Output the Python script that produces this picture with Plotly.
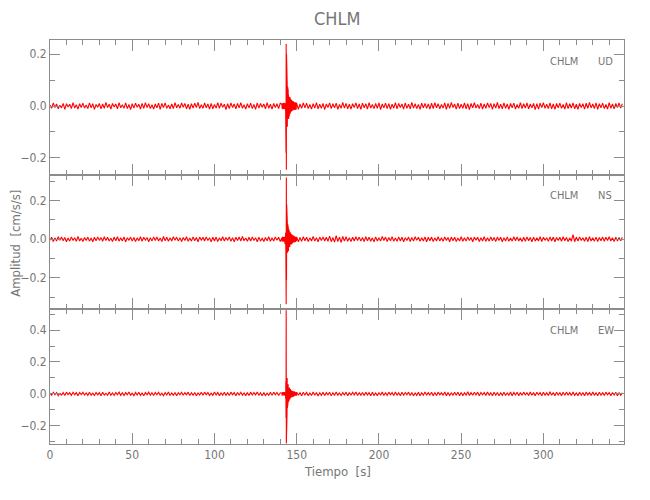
import numpy as np
import plotly.graph_objects as go
from plotly.subplots import make_subplots

# ---- sampling times [s]: 1 s before/after the event, 0.1 s around it ----
t_pre = np.arange(0, 141)               # 0 .. 140
t_evt = np.arange(1410, 1500) / 10.0    # 141.0 .. 149.9
t_post = np.arange(150, 349)            # 150 .. 348
t = np.concatenate([t_pre, t_evt, t_post])

# ---- amplitudes in mGal (0.001 cm/s/s) ----
ud_pre = [4,-9,12,-6,8,-11,3,-7,10,-13,9,-4,7,-10,13,-8,5,-12,9,-6,
          11,-8,4,-10,12,-7,9,-13,6,-5,10,-11,8,-9,14,-6,7,-12,10,-4,
          8,-11,13,-7,5,-9,12,-10,6,-14,9,-8,11,-5,7,-12,10,-9,13,-6,
          9,-10,5,-12,8,-7,11,-13,10,-6,12,-9,4,-11,8,-10,13,-7,6,-9,
          12,-5,10,-11,7,-13,9,-8,11,-6,14,-10,5,-9,12,-7,8,-12,10,-11,
          6,-8,13,-9,11,-5,7,-14,9,-10,12,-6,8,-11,10,-7,13,-9,5,-12,
          9,-7,11,-10,6,-13,12,-8,10,-5,8,-11,13,-9,7,-12,10,-6,9,-10,
          11]
ud_evt = [6,-9,11,-7,10,-12,8,-5,12,-10,7,-11,9,-6,13,-9,8,-12,10,-7,11,-8,9,
          -28,120,-180,240,-246,200,-160,130,-110,90,
          -80,75,-70,60,-55,62,-48,45,-50,40,
          -38,35,-40,30,-33,36,-28,25,-30,27,
          -24,22,-25,20,-22,24,-18,20,-21,17,
          -19,18,-16,15,-18,16,-14,
          17,-15,13,-16,14,-12,15,-13,11,-14,12,-15,13,-11,14,-12,10,-13,12,-11]
ud_post = [10,-13,8,-9,12,-7,11,-10,6,-12,9,-8,13,-11,7,-9,10,-14,8,-6,
           12,-10,9,-7,11,-13,6,-9,14,-8,10,-11,7,-12,9,-6,12,-10,8,-13,
           11,-7,9,-12,13,-8,6,-10,10,-9,12,-14,8,-7,11,-10,9,-13,7,-8,
           13,-11,10,-6,8,-12,12,-9,7,-11,14,-8,9,-10,6,-13,11,-7,10,-9,
           8,-12,11,-10,13,-7,9,-11,6,-8,12,-13,10,-9,14,-6,8,-12,11,-10,
           7,-9,12,-11,9,-14,10,-7,13,-8,6,-10,11,-12,8,-9,12,-6,10,-13,
           9,-8,14,-10,7,-11,12,-9,8,-13,10,-7,11,-12,6,-9,13,-10,9,-8,
           12,-11,8,-7,10,-14,9,-12,11,-6,13,-9,7,-10,12,-11,8,-13,10,-7,
           11,-9,6,-12,13,-10,9,-8,12,-11,7,-13,10,-6,9,-12,11,-9,14,-7,
           8,-10,12,-13,9,-7,11,-10,6,-12,13,-9,8,-11,10,-6,12,-8,9]

ns_pre = [-6,10,-12,7,-9,13,-5,11,-8,9,-13,6,-10,12,-7,8,-11,14,-9,5,
          -12,9,-7,11,-10,6,-13,10,-8,12,-6,9,-11,13,-7,10,-9,5,-12,11,
          -8,13,-10,7,-9,12,-14,8,-6,11,-10,9,-12,7,-8,13,-11,10,-5,9,
          -13,8,-10,12,-7,11,-9,6,-12,14,-8,10,-11,7,-9,13,-6,11,-10,8,
          -12,9,-7,13,-11,6,-10,12,-8,9,-13,11,-6,10,-9,12,-7,8,-14,10,
          -9,11,-12,7,-8,13,-10,9,-6,12,-11,8,-13,10,-7,11,-9,14,-8,6,
          -11,10,-9,12,-7,8,-13,11,-10,6,-12,9,-8,13,-11,7,-9,12,-6,10,
          -12]
ns_evt = [8,-11,6,-9,12,-7,10,-13,5,-8,11,-10,7,-12,9,-6,13,-9,-18,22,-25,20,-24,
          35,-60,150,-338,320,-210,180,-150,110,-95,
          85,-70,78,-60,65,-55,58,-62,50,-45,
          48,-40,42,-38,35,-40,33,-30,36,-28,
          30,-26,28,-25,22,-27,24,-20,23,-21,
          19,-22,18,-17,20,-16,15,
          -17,14,-15,16,-12,14,-13,11,-15,12,-10,13,-14,11,-12,10,-13,12,-11,9]
ns_post = [12,-14,9,-11,13,-8,10,-12,7,-9,14,-10,8,-13,11,-7,12,-9,10,-11,
           16,-13,9,-15,18,-12,11,-17,14,-10,13,-11,8,-12,10,-9,13,-7,11,-10,
           9,-12,13,-8,10,-11,7,-13,12,-9,8,-10,14,-7,11,-12,9,-8,13,-10,
           6,-11,12,-9,10,-13,8,-7,11,-12,9,-10,13,-6,10,-11,7,-9,12,-13,
           10,-8,11,-12,7,-9,13,-10,8,-11,12,-7,9,-13,11,-8,10,-12,6,-9,
           13,-11,8,-10,12,-7,9,-13,11,-6,10,-12,8,-9,13,-11,7,-10,12,-8,
           9,-12,11,-7,10,-13,8,-9,12,-11,6,-10,13,-8,11,-9,7,-12,10,-11,
           12,-8,9,-13,11,-10,7,-9,13,-12,10,-6,8,-11,12,-9,11,-13,9,-7,
           10,-11,13,-8,9,-12,7,-10,24,-13,11,-9,12,-7,8,-11,10,-12,13,-9,
           7,-10,11,-12,9,-8,12,-11,10,-7,13,-9,8,-12,11,-10,9,-8,10]

ew_pre = [5,-8,10,-6,9,-11,4,-7,8,-10,11,-5,7,-9,10,-6,8,-11,9,-4,
          10,-7,6,-9,11,-8,5,-10,9,-6,8,-11,10,-7,4,-9,12,-8,6,-10,
          9,-5,11,-9,7,-10,8,-6,12,-8,5,-11,9,-7,10,-9,6,-12,8,-5,
          11,-8,7,-10,9,-6,10,-9,5,-11,8,-7,12,-10,6,-8,9,-11,7,-6,
          10,-9,8,-5,11,-10,7,-8,9,-12,6,-7,10,-9,11,-6,8,-10,5,-9,
          12,-7,9,-11,6,-8,10,-9,7,-10,11,-5,8,-12,9,-7,10,-8,6,-11,
          8,-10,11,-7,9,-6,12,-9,7,-11,8,-10,5,-9,10,-8,11,-6,9,-10,
          7]
ew_evt = [5,-9,8,-6,10,-8,7,-11,6,-7,9,-10,8,-5,11,-8,6,-9,10,-7,8,-12,9,
          -30,80,-150,525,-310,260,-200,150,-130,100,
          -90,75,-80,65,-58,60,-50,52,-45,40,
          -42,38,-35,40,-32,30,-34,28,-26,30,
          -24,25,-22,20,-23,21,-19,22,-18,17,
          -20,16,-15,18,-14,16,-13,
          12,-14,11,-13,12,-10,14,-11,9,-12,13,-10,11,-9,12,-11,10,-12,9,-10]
ew_post = [11,-9,8,-12,10,-7,9,-11,6,-10,12,-8,9,-13,7,-9,11,-10,8,-6,
           10,-11,7,-9,12,-8,6,-10,9,-7,11,-12,8,-9,10,-6,12,-10,7,-8,
           9,-10,11,-7,8,-12,10,-9,6,-11,9,-8,12,-10,7,-9,11,-6,8,-10,
           12,-9,7,-11,10,-8,9,-6,11,-10,8,-12,6,-9,10,-11,7,-8,12,-9,
           8,-7,10,-12,9,-10,11,-6,7,-9,12,-11,8,-10,6,-8,10,-9,11,-12,
           9,-11,7,-8,13,-10,8,-9,10,-7,11,-12,9,-6,8,-10,12,-9,7,-11,
           10,-8,9,-12,7,-9,11,-10,6,-8,12,-11,9,-7,10,-12,8,-9,11,-6,
           7,-10,12,-9,8,-11,10,-6,9,-12,11,-8,7,-10,13,-9,8,-11,10,-7,
           9,-12,10,-8,11,-7,8,-10,12,-9,6,-11,10,-8,9,-12,11,-7,8,-10,
           12,-9,7,-11,10,-8,9,-10,11,-6,8,-12,9,-7,10,-11,8,-9,7]

station = "CHLM"
components = ["UD", "NS", "EW"]
y_ranges = [[-0.265, 0.255], [-0.364, 0.335], [-0.314, 0.53]]
x_range = [0, 349]

MGAL_TO_CMS2 = 1e-3
traces = [np.array(ud_pre + ud_evt + ud_post) * MGAL_TO_CMS2,
          np.array(ns_pre + ns_evt + ns_post) * MGAL_TO_CMS2,
          np.array(ew_pre + ew_evt + ew_post) * MGAL_TO_CMS2]
for tr in traces:
    assert len(tr) == len(t), (len(tr), len(t))

FONT = "Liberation Sans Narrow, Arial Narrow, DejaVu Sans Condensed, Liberation Sans, sans-serif"
GRAY = "#767676"
AXC = "#8c8c8c"

fig = make_subplots(rows=3, cols=1, shared_xaxes=True, vertical_spacing=0)

for i, y in enumerate(traces):
    fig.add_trace(go.Scatter(x=t, y=y, mode="lines",
                             line=dict(color="#ff0000", width=1.1),
                             hoverinfo="skip", showlegend=False),
                  row=i + 1, col=1)

common = dict(showline=True, linecolor=AXC, linewidth=1, mirror="ticks",
              ticks="inside", tickcolor=AXC, tickwidth=1,
              showgrid=False, zeroline=False,
              tickfont=dict(family=FONT, size=12, color=GRAY))

for i in range(3):
    fig.update_xaxes(range=x_range, tick0=0, dtick=50, ticklen=11,
                     minor=dict(dtick=10, ticks="inside", ticklen=5,
                                tickcolor=AXC, showgrid=False),
                     showticklabels=(i == 2), row=i + 1, col=1, **common)
    fig.update_yaxes(range=y_ranges[i], tick0=0, dtick=0.2, ticklen=10,
                     tickformat=".1f",
                     minor=dict(dtick=0.1, ticks="inside", ticklen=5,
                                tickcolor=AXC, showgrid=False),
                     row=i + 1, col=1, **common)

annotations = []
for i, comp in enumerate(components):
    suf = "" if i == 0 else str(i + 1)
    annotations.append(dict(text=station, xref=f"x{suf} domain", yref=f"y{suf} domain",
                            x=0.9236, y=0.844, xanchor="right", yanchor="middle",
                            showarrow=False, font=dict(family=FONT, size=11, color=GRAY)))
    annotations.append(dict(text=comp, xref=f"x{suf} domain", yref=f"y{suf} domain",
                            x=0.951, y=0.844, xanchor="left", yanchor="middle",
                            showarrow=False, font=dict(family=FONT, size=11, color=GRAY)))

annotations.append(dict(text=station, xref="paper", yref="paper", x=0.5, y=1.054,
                        xanchor="center", yanchor="middle", showarrow=False,
                        font=dict(family=FONT, size=18, color=GRAY)))
annotations.append(dict(text="Tiempo  [s]", xref="paper", yref="paper", x=0.5, y=-0.067,
                        xanchor="center", yanchor="middle", showarrow=False,
                        font=dict(family=FONT, size=13, color=GRAY)))
annotations.append(dict(text="Amplitud  [cm/s/s]", xref="paper", yref="paper",
                        x=-0.06, y=0.497, xanchor="center", yanchor="middle",
                        textangle=-90, showarrow=False,
                        font=dict(family=FONT, size=13, color=GRAY)))

# the page body adds an 8 px offset, so margins are shifted to compensate
fig.update_layout(width=650, height=500,
                  margin=dict(l=40, r=34, t=32, b=64),
                  paper_bgcolor="white", plot_bgcolor="white",
                  showlegend=False, annotations=annotations)

fig.write_html("out.html")
